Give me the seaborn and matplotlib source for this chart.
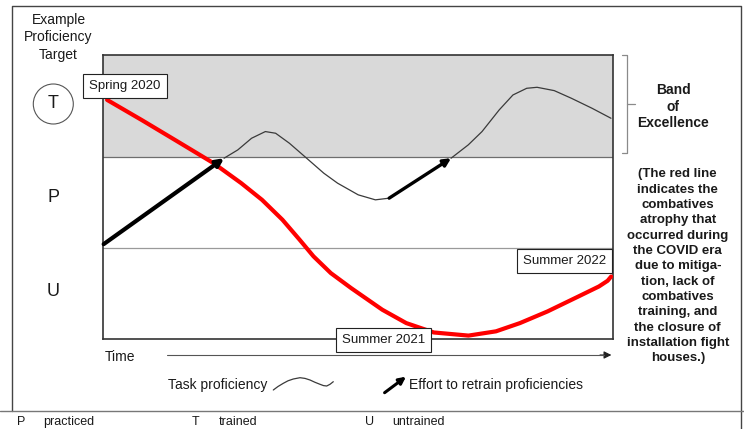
"""Combatives proficiency atrophy during the COVID era (concept chart)."""

import matplotlib
matplotlib.use("Agg")
import matplotlib.pyplot as plt
from matplotlib.lines import Line2D
from matplotlib.patches import Circle
import numpy as np
import pandas as pd
import seaborn as sns

# --- data (time 0-100 across the plot, proficiency 0-100 bottom to top) ---
red_time = [0.8, 7.6, 14.3, 21.7, 27.1, 31.2, 35.2, 38.6, 41.3, 44.7, 48.7,
            54.8, 59.5, 64.9, 71.7, 77.1, 81.8, 87.2, 93.3, 97.3, 99.0, 99.7]
red_level = [84.2, 77.1, 69.9, 61.9, 54.9, 49.0, 42.0, 34.9, 29.1, 23.2, 17.9,
             10.3, 5.6, 2.3, 1.2, 2.7, 5.6, 9.7, 15.0, 18.5, 20.5, 22.0]

task1_time = [23.75, 26.45, 29.15, 31.85, 33.87, 36.57, 39.95, 43.32, 46.02,
              50.07, 53.44, 56.14]
task1_level = [63.66, 66.59, 70.69, 73.04, 72.45, 68.93, 63.66, 58.38, 54.87,
               50.76, 49.0, 49.59]
task2_time = [68.29, 71.66, 74.36, 77.73, 80.43, 83.13, 85.16, 88.53, 91.9,
              95.95, 99.66]
task2_level = [63.66, 68.35, 73.04, 80.66, 85.93, 88.28, 88.63, 87.46, 84.76,
               81.24, 77.73]

# retrain efforts: (start time, start level, end time, end level)
efforts = [(0.13, 33.4, 23.75, 63.66), (56.14, 49.59, 68.29, 63.66)]

band_bottom = 64.0
practiced_bottom = 31.9

milestones = ["Spring 2020", "Summer 2021", "Summer 2022"]
milestone_time = [4.3, 55.0, 90.6]
milestone_level = [89.0, -0.35, 27.4]

level_letters = ["T", "P", "U"]

note_lines = ["(The red line", "indicates the", "combatives", "atrophy that",
              "occurred during", "the COVID era", "due to mitiga-",
              "tion, lack of", "combatives", "training, and", "the closure of",
              "installation fight", "houses.)"]

footer_keys = ["P", "T", "U"]
footer_vals = ["practiced", "trained", "untrained"]

W, H = 744, 429
TXT = "#1a1a1a"


def fx(x):
    return x / W


def fy(y):
    return 1 - y / H


sns.set_style("white")
plt.rcParams["font.family"] = ["Liberation Sans", "DejaVu Sans"]

fig = plt.figure(figsize=(W / 100, H / 100), dpi=100)
ax = fig.add_axes([fx(103), fy(339), 509.7 / W, 284 / H])
ax.set_xlim(0, 100)
ax.set_ylim(0, 100)
ax.set_xticks([])
ax.set_yticks([])
for sp in ax.spines.values():
    sp.set_color("#333333")
    sp.set_linewidth(1.2)

ax.axhspan(band_bottom, 100, color="#d9d9d9", zorder=0, lw=0)
ax.axhline(band_bottom, color="#6e6e6e", lw=0.9, zorder=1)
ax.axhline(practiced_bottom, color="#9a9a9a", lw=0.9, zorder=1)

task = pd.concat([
    pd.DataFrame({"time": task1_time, "level": task1_level, "seg": 1}),
    pd.DataFrame({"time": task2_time, "level": task2_level, "seg": 2}),
])
sns.lineplot(data=task, x="time", y="level", units="seg", estimator=None,
             sort=False, color="#3a3a3a", lw=0.9, ax=ax, zorder=3,
             solid_joinstyle="round")

red = pd.DataFrame({"time": red_time, "level": red_level})
sns.lineplot(data=red, x="time", y="level", estimator=None, sort=False,
             color="#ff0000", lw=3.0, ax=ax, zorder=4,
             solid_joinstyle="round", solid_capstyle="round")
ax.set_xlabel("")
ax.set_ylabel("")

for (x0, y0, x1, y1), lw in zip(efforts, [3.0, 2.4]):
    ax.annotate("", xy=(x1, y1), xytext=(x0, y0),
                arrowprops=dict(arrowstyle="-|>", color="black", lw=lw,
                                mutation_scale=11, shrinkA=0, shrinkB=0),
                zorder=5)

for label, t, lv in zip(milestones, milestone_time, milestone_level):
    ax.text(t, lv, label, ha="center", va="center", fontsize=9.5, color=TXT,
            zorder=6,
            bbox=dict(boxstyle="square,pad=0.45", fc="white", ec="#222222",
                      lw=0.8))

# --- left labels ---
fig.text(fx(58.5), fy(37.5), "Example\nProficiency\nTarget", ha="center",
         va="center", fontsize=10, color=TXT, linespacing=1.3)
for letter, y in zip(level_letters, [104, 197, 292]):
    fig.text(fx(53.3), fy(y), letter, ha="center", va="center", fontsize=13,
             color=TXT)
fig.add_artist(Circle((53.3, H - 104), 20, transform=None, fill=False,
                      ec="#555555", lw=0.8))

# --- right side: bracket and notes ---
bx = [621.7, 626.7, 626.7, 621.7]
by = [55, 55, 153.3, 153.3]
fig.add_artist(Line2D([fx(v) for v in bx], [fy(v) for v in by],
                      color="#8a8a8a", lw=0.9))
fig.add_artist(Line2D([fx(626.7), fx(635)], [fy(104.3), fy(104.3)],
                      color="#8a8a8a", lw=0.9))
fig.text(fx(673.3), fy(106.7), "Band\nof\nExcellence", ha="center",
         va="center", fontsize=10, fontweight="bold", color=TXT,
         linespacing=1.25)
fig.text(fx(677.8), fy(266.2), "\n".join(note_lines), ha="center",
         va="center", fontsize=9.5, fontweight="bold", color=TXT,
         linespacing=1.37)

# --- time axis ---
fig.text(fx(105), fy(356.7), "Time", ha="left", va="center", fontsize=10,
         color=TXT)
fig.add_artist(Line2D([fx(166.8), fx(604)], [fy(355), fy(355)],
                      color="#555555", lw=0.8))
ax.annotate("", xy=(fx(611.4), fy(355)), xytext=(fx(600), fy(355)),
            xycoords="figure fraction", textcoords="figure fraction",
            arrowprops=dict(arrowstyle="-|>", color="#222222", lw=0.8,
                            mutation_scale=11, shrinkA=0, shrinkB=0))

# --- legend row ---
fig.text(fx(168.3), fy(385.5), "Task proficiency", ha="left", va="center",
         fontsize=10, color=TXT)
wave_x = [273.3, 278, 283.3, 288, 293.3, 300, 305, 310, 315, 320, 323.5,
          326.7, 330, 333.3]
wave_y = [390, 386.5, 383.3, 380.8, 379, 377.7, 378.4, 380, 382.3, 384.3,
          385.6, 386, 384.3, 381.7]
fig.add_artist(Line2D([fx(v) for v in wave_x], [fy(v) for v in wave_y],
                      color="#3a3a3a", lw=0.9, solid_joinstyle="round"))
ax.annotate("", xy=(fx(406), fy(376.7)), xytext=(fx(384.6), fy(392.7)),
            xycoords="figure fraction", textcoords="figure fraction",
            arrowprops=dict(arrowstyle="-|>", color="black", lw=2.2,
                            mutation_scale=10, shrinkA=0, shrinkB=0))
fig.text(fx(408.6), fy(385.5), "Effort to retrain proficiencies", ha="left",
         va="center", fontsize=10, color=TXT)

# --- frame and footer ---
frame_x = [12, 12, 740.5, 740.5]
frame_y = [411, 6, 6, 429]
fig.add_artist(Line2D([fx(v) for v in frame_x], [fy(v) for v in frame_y],
                      color="#444444", lw=1.0))
fig.add_artist(Line2D([0, 1], [fy(411), fy(411)], color="#777777", lw=1.0))
for key, val, x in zip(footer_keys, footer_vals, [16.5, 192, 365.5]):
    fig.text(fx(x), fy(421.7), key, ha="left", va="center", fontsize=9,
             color=TXT)
    fig.text(fx(x + 26.5), fy(421.7), val, ha="left", va="center",
             fontsize=9, color=TXT)

fig.savefig("out.png", dpi=100)
plt.close(fig)
